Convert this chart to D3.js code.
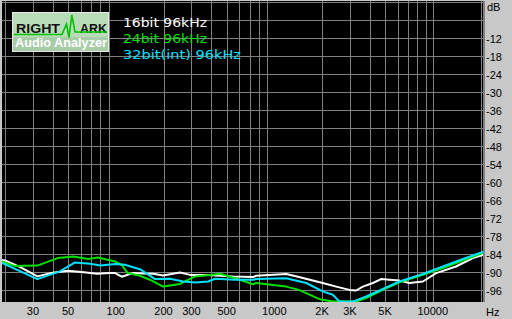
<!DOCTYPE html>
<html>
<head>
<meta charset="utf-8">
<script src="https://cdn.jsdelivr.net/npm/d3@7"></script>
<style>
  html, body { margin: 0; padding: 0; background: #c8c8c8; }
  svg { display: block; }
</style>
</head>
<body>
<div id="canvas"></div>
<script>
// series (Hz / dB)
var white16Freq = [19, 20, 25, 32, 40, 50, 63, 76, 92, 99, 109, 128, 160, 172, 199, 254, 294, 377, 550, 735, 770,
  1190, 1430, 2020, 2460, 2980, 3280, 3620, 4190, 4720, 5330, 6160, 7130, 8660, 10500, 14000, 17900, 21100];
var white16Db = [-85.8, -86.0, -88.2, -91.3, -90.1, -89.4, -89.9, -90.4, -90.2, -90.2, -91.4, -90.2, -90.4, -90.4, -91.0, -90.0, -90.8, -90.8, -91.3, -91.5, -91.1,
  -90.5, -91.5, -93.5, -94.7, -95.8, -96.0, -94.7, -93.5, -92.2, -92.4, -92.7, -93.5, -93.0, -90.2, -88.0, -85.2, -84.0];

var green24Freq = [19, 23, 32, 43, 54, 67, 77, 99, 109, 119, 142, 164, 199, 254, 316, 393, 455, 566, 735, 768,
  1190, 1430, 1930, 2340, 3280, 3800, 4840, 6160, 8660, 11580, 15490, 21100];
var green24Db = [-86.3, -87.8, -87.7, -85.2, -84.7, -85.5, -85.0, -86.3, -87.5, -90.2, -91.1, -92.4, -94.7, -93.8, -91.3, -90.8, -90.4, -91.9, -93.9, -93.5,
  -94.7, -95.8, -98.9, -99.7, -99.7, -98.5, -95.8, -93.3, -90.8, -88.5, -86.0, -83.3];

var cyan32Freq = [19, 32, 44, 55, 69, 80, 99, 114, 142, 177, 220, 266, 316, 382, 423, 566, 735, 768,
  1190, 1590, 2020, 2340, 2580, 3130, 3800, 4840, 6160, 8660, 11580, 15490, 21100];
var cyan32Db = [-86.7, -92.2, -89.7, -86.7, -87.1, -87.7, -87.2, -87.4, -88.9, -92.2, -92.1, -93.0, -93.3, -93.0, -92.1, -92.4, -92.4, -92.2,
  -91.9, -93.5, -96.3, -97.4, -99.7, -99.7, -98.0, -95.5, -93.0, -90.5, -88.0, -85.5, -83.0];

var seriesNames = ["16bit 96kHz", "24bit 96kHz", "32bit(int) 96kHz"];
var seriesColors = ["#ffffff", "#00e000", "#00e0ff"];
var legendWidths = [84, 84, 118];

var xTickValues = [30, 50, 100, 200, 300, 500, 1000, 2000, 3000, 5000, 10000];
var xTickLabels = ["30", "50", "100", "200", "300", "500", "1000", "2K", "3K", "5K", "10000"];
var yTickValues = [-12, -18, -24, -30, -36, -42, -48, -54, -60, -66, -72, -78, -84, -90, -96];

var width = 512, height = 319;
var plot = {left: 2, right: 483, top: 1, bottom: 302};

var svg = d3.select("#canvas")
  .append("svg")
  .attr("width", width)
  .attr("height", height);

svg.append("rect")
  .attr("width", width)
  .attr("height", height)
  .attr("fill", "#c8c8c8");

var x = d3.scaleLog()
  .domain([20, 20000])
  .range([5, 480.5]);

var y = d3.scaleLinear()
  .domain([0, -100])
  .range([2.5, 302.5]);

svg.append("rect")
  .attr("x", plot.left)
  .attr("y", plot.top)
  .attr("width", plot.right - plot.left)
  .attr("height", plot.bottom - plot.top)
  .attr("fill", "#000");

svg.append("clipPath")
  .attr("id", "clip")
  .append("rect")
  .attr("x", plot.left)
  .attr("y", plot.top)
  .attr("width", plot.right - plot.left)
  .attr("height", plot.bottom - plot.top);

// grid
var gridFreqs = [];
[10, 100, 1000].forEach(function (dec) {
  for (var k = 2; k <= 9; k++) gridFreqs.push(k * dec);
});
gridFreqs.push(10000, 20000);

var grid = svg.append("g").attr("stroke", "#808080").attr("stroke-width", 1);

grid.selectAll(".vgrid")
  .data(gridFreqs)
  .enter()
  .append("line")
  .attr("x1", d => Math.round(x(d)) + 0.5)
  .attr("x2", d => Math.round(x(d)) + 0.5)
  .attr("y1", plot.top)
  .attr("y2", plot.bottom);

grid.selectAll(".hgrid")
  .data(d3.range(0, -97, -6))
  .enter()
  .append("line")
  .attr("x1", plot.left)
  .attr("x2", plot.right)
  .attr("y1", d => y(d))
  .attr("y2", d => y(d));

svg.append("rect")
  .attr("x", plot.right)
  .attr("y", plot.top)
  .attr("width", 2)
  .attr("height", plot.bottom - plot.top)
  .attr("fill", "#808080");

// curves
var line = d3.line()
  .x(d => x(d[0]))
  .y(d => y(d[1]));

var series = [
  d3.zip(white16Freq, white16Db),
  d3.zip(green24Freq, green24Db),
  d3.zip(cyan32Freq, cyan32Db)
];

svg.append("g")
  .attr("clip-path", "url(#clip)")
  .selectAll("path")
  .data(series)
  .enter()
  .append("path")
  .attr("d", line)
  .attr("fill", "none")
  .attr("stroke", (d, i) => seriesColors[i])
  .attr("stroke-width", 2)
  .attr("stroke-linejoin", "round");

// axes labels
var axisFont = "'Liberation Sans', Arial, sans-serif";

svg.selectAll(".xlab")
  .data(xTickValues)
  .enter()
  .append("text")
  .attr("x", d => x(d))
  .attr("y", 315)
  .attr("text-anchor", "middle")
  .attr("font-family", axisFont)
  .attr("font-size", 11)
  .attr("fill", "#000")
  .text((d, i) => xTickLabels[i]);

svg.append("text")
  .attr("x", 486)
  .attr("y", 316)
  .attr("font-family", axisFont)
  .attr("font-size", 11)
  .text("Hz");

svg.selectAll(".ylab")
  .data(yTickValues)
  .enter()
  .append("text")
  .attr("x", 486)
  .attr("y", d => y(d) + 4)
  .attr("font-family", axisFont)
  .attr("font-size", 11)
  .text(d => d);

svg.append("text")
  .attr("x", 487)
  .attr("y", 11)
  .attr("font-family", axisFont)
  .attr("font-size", 11)
  .text("dB");

// legend
svg.selectAll(".legend")
  .data(seriesNames)
  .enter()
  .append("text")
  .attr("x", 123)
  .attr("y", (d, i) => 27 + i * 16)
  .attr("font-family", "'DejaVu Sans', Verdana, sans-serif")
  .attr("font-size", 12)
  .attr("fill", (d, i) => seriesColors[i])
  .attr("textLength", (d, i) => legendWidths[i])
  .attr("lengthAdjust", "spacingAndGlyphs")
  .text(d => d);

// logo
var logo = svg.append("g");
logo.append("rect")
  .attr("x", 12.5).attr("y", 12.5)
  .attr("width", 96).attr("height", 39)
  .attr("fill", "#b8dcb8")
  .attr("stroke", "#e8e8e8");
logo.append("rect")
  .attr("x", 13).attr("y", 37)
  .attr("width", 95).attr("height", 14)
  .attr("fill", "#a8cca8");
logo.append("text")
  .attr("x", 16).attr("y", 32.5)
  .attr("font-family", "'Liberation Sans', Arial, sans-serif")
  .attr("font-weight", "bold").attr("font-size", 13.5)
  .attr("textLength", 44).attr("lengthAdjust", "spacingAndGlyphs")
  .attr("fill", "#101010")
  .text("RIGHT");
logo.append("text")
  .attr("x", 80).attr("y", 32.5)
  .attr("font-family", "'Liberation Sans', Arial, sans-serif")
  .attr("font-weight", "bold").attr("font-size", 13.5)
  .attr("textLength", 27).attr("lengthAdjust", "spacingAndGlyphs")
  .attr("fill", "#101010")
  .text("ARK");
logo.append("polyline")
  .attr("points", "14,34.5 62,34.5 66.5,24 69,37.5 71.8,15 75,32 107,32")
  .attr("fill", "none")
  .attr("stroke", "#00c000")
  .attr("stroke-width", 1.6);
logo.append("text")
  .attr("x", 15).attr("y", 47)
  .attr("font-family", "'Liberation Sans', Arial, sans-serif")
  .attr("font-weight", "bold").attr("font-size", 12.5)
  .attr("textLength", 92).attr("lengthAdjust", "spacingAndGlyphs")
  .attr("fill", "#ffffff")
  .text("Audio Analyzer");
</script>
</body>
</html>
